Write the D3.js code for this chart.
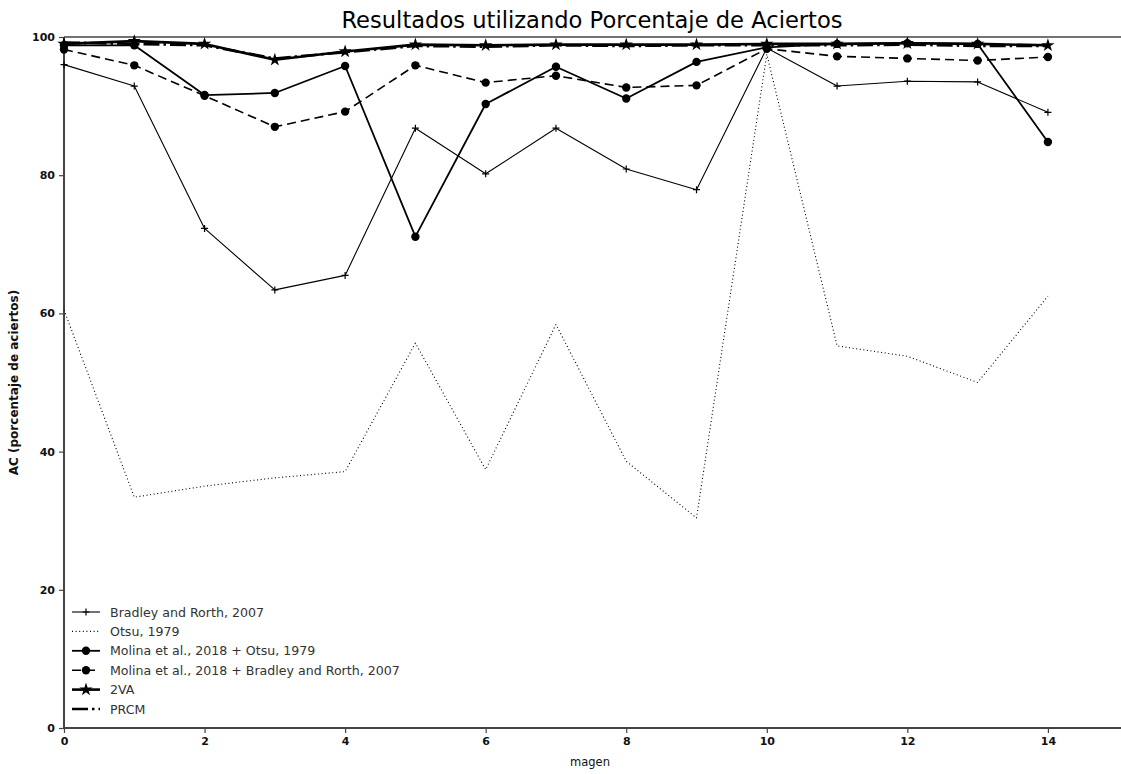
<!DOCTYPE html>
<html>
<head>
<meta charset="utf-8">
<script src="https://cdn.jsdelivr.net/npm/d3@7"></script>
<style>
  html, body { margin: 0; padding: 0; background: #fff; }
  svg { display: block; font-family: "DejaVu Sans", sans-serif; }
</style>
</head>
<body>
<svg id="chart" width="1121" height="774"></svg>
<script>
// Image index on the x axis
const images = [0, 1, 2, 3, 4, 5, 6, 7, 8, 9, 10, 11, 12, 13, 14];

// AC (percentage of correct pixels) per method
const bradley = [96.0, 92.9, 72.3, 63.4, 65.5, 86.8, 80.2, 86.8, 80.9, 77.9, 98.4, 92.9, 93.6, 93.5, 89.1];
const otsu = [60.5, 33.4, 35.0, 36.2, 37.1, 55.7, 37.4, 58.4, 38.6, 30.4, 97.5, 55.3, 53.8, 50.0, 62.5];
const molinaOtsu = [98.8, 98.8, 91.6, 91.9, 95.8, 71.1, 90.3, 95.7, 91.1, 96.4, 98.5, 99.0, 99.1, 99.0, 84.8];
const molinaBradley = [98.2, 95.9, 91.5, 87.0, 89.2, 95.9, 93.4, 94.4, 92.7, 93.0, 98.3, 97.2, 96.9, 96.6, 97.1];
const twoVA = [99.0, 99.4, 99.0, 96.7, 97.9, 98.9, 98.8, 98.9, 98.9, 98.9, 99.0, 99.0, 99.1, 99.0, 98.8];
const prcm = [99.2, 99.0, 98.8, 96.9, 97.8, 98.7, 98.6, 98.8, 98.7, 98.8, 98.8, 98.8, 98.9, 98.7, 98.7];

const seriesNames = [
  "Bradley and Rorth, 2007",
  "Otsu, 1979",
  "Molina et al., 2018 + Otsu, 1979",
  "Molina et al., 2018 + Bradley and Rorth, 2007",
  "2VA",
  "PRCM"
];
const xTicks = [0, 2, 4, 6, 8, 10, 12, 14];
const yTicks = [0, 20, 40, 60, 80, 100];

const title = "Resultados utilizando Porcentaje de Aciertos";
const xLabel = "magen";
const yLabel = "AC (porcentaje de aciertos)";

// Line styles per series
const styles = [
  { values: bradley,       width: 1.1, dash: null,          marker: "plus",   size: 3.5 },
  { values: otsu,          width: 1.1, dash: "1,2.6",       marker: null,     size: 0 },
  { values: molinaOtsu,    width: 1.8, dash: null,          marker: "circle", size: 4.2 },
  { values: molinaBradley, width: 1.6, dash: "9,5",         marker: "circle", size: 4.2 },
  { values: twoVA,         width: 2.6, dash: null,          marker: "star",   size: 5 },
  { values: prcm,          width: 2.6, dash: "16,4,2.5,4",  marker: null,     size: 0 }
];

const svg = d3.select("#chart");
const plotLeft = 64, plotTop = 37, plotBottom = 728, plotRight = 1121;

const x = d3.scaleLinear().domain([0, 15.04]).range([plotLeft, plotRight]);
const y = d3.scaleLinear().domain([0, 100]).range([plotBottom, plotTop]);

// Axes
const axisColor = "#444";
const gx = svg.append("g").attr("transform", `translate(0,${plotBottom})`)
  .call(d3.axisBottom(x).tickValues(xTicks).tickSize(5).tickPadding(4).tickFormat(d3.format("d")));
const gy = svg.append("g").attr("transform", `translate(${plotLeft},0)`)
  .call(d3.axisLeft(y).tickValues(yTicks).tickSize(5).tickPadding(4).tickFormat(d3.format("d")));
[gx, gy].forEach(g => {
  g.select(".domain").remove();
  g.selectAll(".tick line").attr("stroke", axisColor).attr("stroke-width", 1.2);
  g.selectAll(".tick text").attr("fill", "#111").attr("font-size", 11).attr("font-weight", "bold")
    .attr("font-family", "DejaVu Sans, sans-serif");
});

// Spines
svg.append("line").attr("x1", plotLeft).attr("x2", plotRight).attr("y1", plotTop).attr("y2", plotTop)
  .attr("stroke", axisColor).attr("stroke-width", 1.4);
svg.append("line").attr("x1", plotLeft).attr("x2", plotLeft).attr("y1", plotTop).attr("y2", plotBottom)
  .attr("stroke", axisColor).attr("stroke-width", 2);
svg.append("line").attr("x1", plotLeft).attr("x2", plotRight).attr("y1", plotBottom).attr("y2", plotBottom)
  .attr("stroke", axisColor).attr("stroke-width", 2);

// Marker drawing
const starPath = d3.symbol().type(d3.symbolStar);
function drawMarker(g, type, cx, cy, size) {
  if (type === "circle") {
    g.append("circle").attr("cx", cx).attr("cy", cy).attr("r", size).attr("fill", "#000");
  } else if (type === "plus") {
    g.append("path").attr("d", `M${cx - size},${cy}H${cx + size}M${cx},${cy - size}V${cy + size}`)
      .attr("stroke", "#000").attr("stroke-width", 1.2);
  } else if (type === "star") {
    g.append("path").attr("d", starPath.size(size * size * 2.2)()).attr("transform", `translate(${cx},${cy})`)
      .attr("fill", "#000");
  }
}

// Series lines
const line = d3.line().x((d, i) => x(images[i])).y(d => y(d));
styles.forEach(s => {
  const g = svg.append("g");
  const p = g.append("path").datum(s.values).attr("d", line)
    .attr("fill", "none").attr("stroke", "#000").attr("stroke-width", s.width)
    .attr("stroke-linejoin", "round");
  if (s.dash) p.attr("stroke-dasharray", s.dash);
  if (s.marker) s.values.forEach((v, i) => drawMarker(g, s.marker, x(images[i]), y(v), s.size));
});

// Legend
const legend = svg.append("g");
const ly0 = 612, lstep = 19.4;
styles.forEach((s, i) => {
  const yy = ly0 + i * lstep;
  const p = legend.append("line").attr("x1", 72).attr("x2", 100).attr("y1", yy).attr("y2", yy)
    .attr("stroke", "#000").attr("stroke-width", s.width);
  if (s.dash) p.attr("stroke-dasharray", s.dash);
  if (s.marker) drawMarker(legend, s.marker, 86, yy, s.size);
  legend.append("text").attr("x", 110).attr("y", yy + 4.5).attr("font-size", 12.6)
    .attr("fill", "#333").text(seriesNames[i]);
});

// Titles
svg.append("text").attr("x", 592).attr("y", 28).attr("text-anchor", "middle")
  .attr("font-size", 22.6).attr("fill", "#000").text(title);
svg.append("text").attr("x", 590).attr("y", 766).attr("text-anchor", "middle")
  .attr("font-size", 11.5).attr("fill", "#111").text(xLabel);
svg.append("text").attr("transform", `translate(18,${(plotTop + plotBottom) / 2}) rotate(-90)`)
  .attr("text-anchor", "middle").attr("font-size", 12).attr("font-weight", "bold")
  .attr("fill", "#111").text(yLabel);
</script>
</body>
</html>
